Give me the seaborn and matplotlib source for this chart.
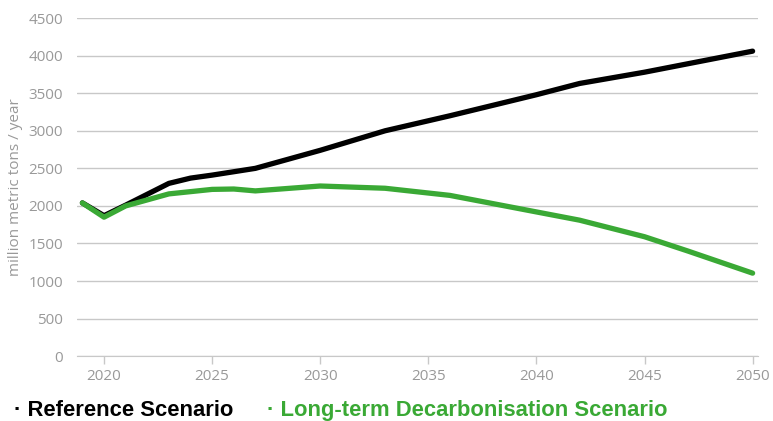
import pandas as pd
import numpy as np
import matplotlib.pyplot as plt
import seaborn as sns

years_ref = [2019, 2020, 2021, 2023, 2024, 2025, 2027, 2030, 2033, 2036, 2040, 2042, 2045, 2050]
reference = [2040, 1870, 2010, 2300, 2370, 2410, 2500, 2740, 3000, 3200, 3480, 3630, 3780, 4060]

years_dec = [2019, 2020, 2021, 2023, 2025, 2026, 2027, 2030, 2033, 2036, 2038, 2040, 2042, 2045, 2047, 2050]
decarb = [2040, 1850, 2000, 2160, 2220, 2225, 2200, 2265, 2235, 2140, 2030, 1920, 1810, 1590, 1400, 1105]

ref_name = 'Reference Scenario'
dec_name = 'Long-term Decarbonisation Scenario'
green = '#3aa935'

df = pd.concat([
    pd.DataFrame({'year': years_ref, 'value': reference, 'scenario': ref_name}),
    pd.DataFrame({'year': years_dec, 'value': decarb, 'scenario': dec_name}),
])

sns.set_style('white')
plt.rcParams['font.family'] = ['Open Sans', 'DejaVu Sans']

fig = plt.figure(figsize=(7.73, 4.21), dpi=100)
ax = fig.add_axes([0.0996, 0.154, 0.881, 0.803])
sns.lineplot(data=df, x='year', y='value', hue='scenario',
             palette={ref_name: 'black', dec_name: green},
             hue_order=[ref_name, dec_name],
             linewidth=3.8, legend=False, ax=ax, zorder=3)

ax.set_xlim(2018.75, 2050.25)
ax.set_ylim(0, 4500)
ax.set_yticks(np.arange(0, 4501, 500))
ax.set_xticks(np.arange(2020, 2051, 5))
ax.grid(axis='y', color='#c8c8c8', linewidth=1)
ax.grid(axis='x', visible=False)
for s in ['left', 'right', 'top']:
    ax.spines[s].set_visible(False)
ax.spines['bottom'].set_color('#c8c8c8')
ax.tick_params(axis='x', colors='#c8c8c8', length=6, width=1, direction='out',
               labelcolor='#999999', labelsize=11, pad=3, bottom=True)
ax.tick_params(axis='y', length=0, labelcolor='#999999', labelsize=11, pad=10)
ax.set_xlabel('')
ax.set_ylabel('million metric tons / year', color='#999999', fontsize=11, labelpad=4)

# legend drawn as coloured text under the axis
fig.text(0.018, 0.012, '\u00b7 ' + ref_name, color='black', fontsize=15.8,
         fontweight='bold', family=['Liberation Sans', 'DejaVu Sans'])
fig.text(0.345, 0.012, '\u00b7 ' + dec_name, color=green, fontsize=15.8,
         fontweight='bold', family=['Liberation Sans', 'DejaVu Sans'])

fig.savefig('out.png', dpi=100)
